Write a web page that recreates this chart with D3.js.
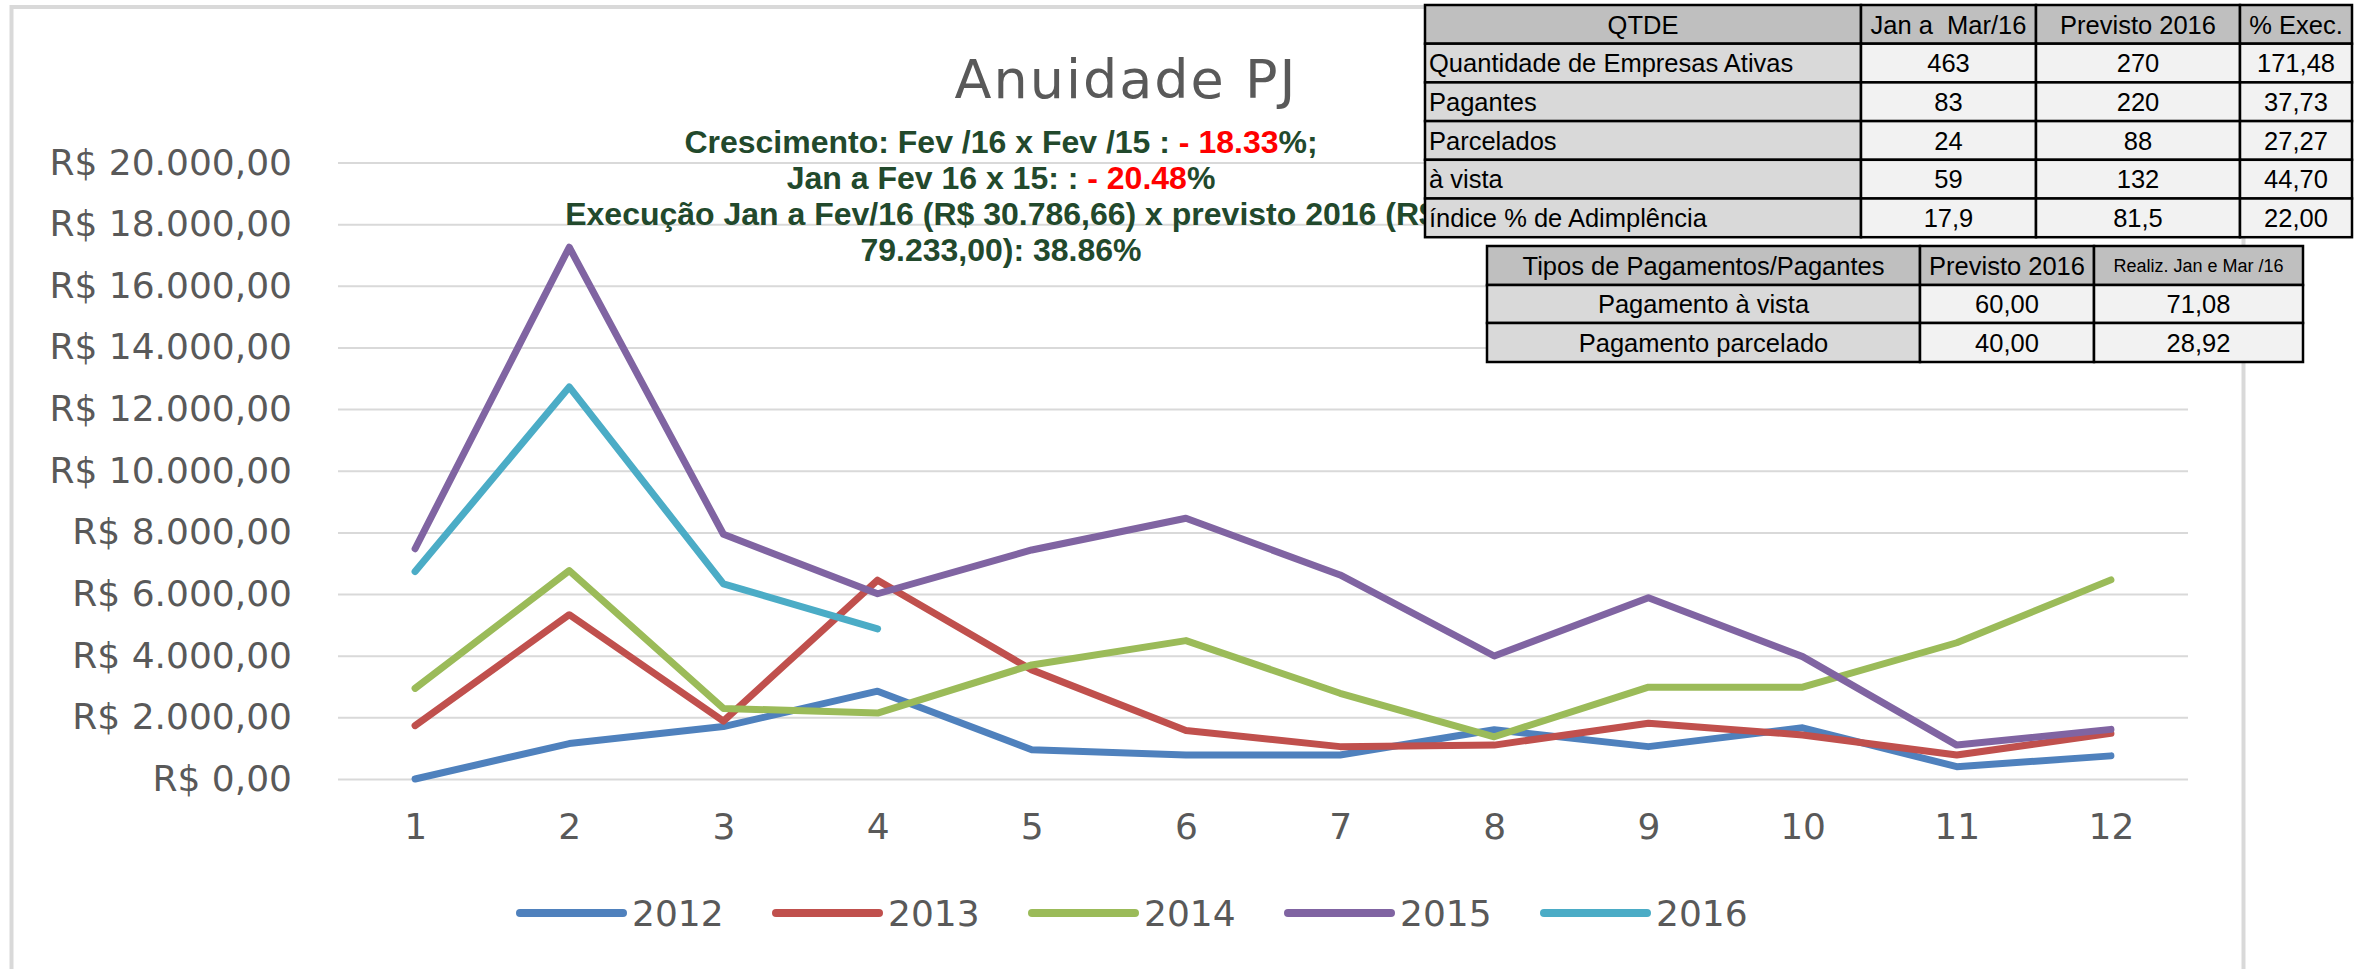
<!DOCTYPE html>
<html>
<head>
<meta charset="utf-8">
<script src="https://cdn.jsdelivr.net/npm/d3@7"></script>
<style>
  body { margin: 0; background: #ffffff; }
  svg text { white-space: pre; }
</style>
</head>
<body>
<div id="chart"></div>
<script>

// Data
let months = [1, 2, 3, 4, 5, 6, 7, 8, 9, 10, 11, 12];
let years = ["2012", "2013", "2014", "2015", "2016"];
let values2012 = [0, 1150, 1700, 2850, 950, 780, 780, 1600, 1050, 1660, 400, 750];
let values2013 = [1730, 5330, 1880, 6450, 3540, 1570, 1050, 1100, 1810, 1430, 780, 1480];
let values2014 = [2940, 6760, 2290, 2140, 3700, 4490, 2780, 1370, 2980, 2980, 4420, 6460];
let values2015 = [7470, 17250, 7940, 6010, 7430, 8460, 6620, 3990, 5880, 3970, 1100, 1610];
let values2016 = [6730, 12720, 6330, 4870];
let yTicks = [0, 2000, 4000, 6000, 8000, 10000, 12000, 14000, 16000, 18000, 20000];

let chartTitle = "Anuidade PJ";

// Table "QTDE"
let qtdeHeader = ["QTDE", "Jan a  Mar/16", "Previsto 2016", "% Exec."];
let qtdeLabels = ["Quantidade de Empresas Ativas", "Pagantes", "Parcelados", "à vista", "índice % de Adimplência"];
let qtdeJanMar = ["463", "83", "24", "59", "17,9"];
let qtdePrevisto = ["270", "220", "88", "132", "81,5"];
let qtdeExec = ["171,48", "37,73", "27,27", "44,70", "22,00"];

// Table "Tipos de Pagamentos"
let tiposHeader = ["Tipos de Pagamentos/Pagantes", "Previsto 2016", "Realiz. Jan e Mar /16"];
let tiposLabels = ["Pagamento à vista", "Pagamento parcelado"];
let tiposPrevisto = ["60,00", "40,00"];
let tiposRealiz = ["71,08", "28,92"];

function drawChart(width, height, selector) {

  console.log("Drawing Anuidade PJ");

  let series = [values2012, values2013, values2014, values2015, values2016];
  let colors = ["#4F81BD", "#C0504D", "#9BBB59", "#8064A2", "#4BACC6"];

  let svg = d3.select(selector)
    .append("svg")
    .attr("width", width)
    .attr("height", height);

  // chart frame
  svg.append("rect")
    .attr("x", 11.5)
    .attr("y", 7)
    .attr("width", 2232)
    .attr("height", 1000)
    .attr("fill", "#ffffff")
    .attr("stroke", "#D9D9D9")
    .attr("stroke-width", 4);

  ///////////////////////
  //// Scales & axes ////
  ///////////////////////

  let plotLeft = 338, plotRight = 2188, plotTop = 162.5, plotBottom = 779;

  let xPositionScale = d3.scalePoint()
    .domain(months)
    .range([plotLeft, plotRight])
    .padding(0.5);

  let yPositionScale = d3.scaleLinear()
    .domain([0, 20000])
    .range([plotBottom, plotTop]);

  let brl = d3.formatLocale({
    decimal: ",",
    thousands: ".",
    grouping: [3],
    currency: ["R$ ", ""]
  });

  let yAxis = d3.axisLeft(yPositionScale)
    .tickValues(yTicks)
    .tickSize(-(plotRight - plotLeft))
    .tickPadding(46)
    .tickFormat(brl.format("$,.2f"));

  let yAxisG = svg.append("g")
    .attr("class", "axis y-axis")
    .attr("transform", "translate(" + plotLeft + ",0)")
    .call(yAxis);

  yAxisG.select(".domain").remove();
  yAxisG.selectAll(".tick line")
    .attr("stroke", "#D9D9D9")
    .attr("stroke-width", 2);
  yAxisG.selectAll(".tick text")
    .attr("fill", "#595959")
    .attr("font-family", "DejaVu Sans")
    .attr("font-size", 36);

  let xAxis = d3.axisBottom(xPositionScale)
    .tickSize(0)
    .tickPadding(34);

  let xAxisG = svg.append("g")
    .attr("class", "axis x-axis")
    .attr("transform", "translate(0," + plotBottom + ")")
    .call(xAxis);

  xAxisG.select(".domain").remove();
  xAxisG.selectAll(".tick text")
    .attr("fill", "#595959")
    .attr("font-family", "DejaVu Sans")
    .attr("font-size", 36);

  ///////////////
  //// Lines ////
  ///////////////

  let line = d3.line()
    .x((d, i) => xPositionScale(months[i]))
    .y(d => yPositionScale(d));

  series.forEach(function(data, i) {
    svg.append("path")
      .attr("class", "line")
      .attr("id", "line-" + years[i])
      .attr("d", line(data))
      .attr("fill", "none")
      .attr("stroke", colors[i])
      .attr("stroke-width", 7)
      .attr("stroke-linejoin", "round")
      .attr("stroke-linecap", "round");
  });

  ////////////////
  //// Legend ////
  ////////////////

  let legend = svg.append("g").attr("class", "legend");

  years.forEach(function(year, i) {
    let lx = 520 + i * 256;
    legend.append("line")
      .attr("x1", lx)
      .attr("x2", lx + 103)
      .attr("y1", 913)
      .attr("y2", 913)
      .attr("stroke", colors[i])
      .attr("stroke-width", 8)
      .attr("stroke-linecap", "round");
    legend.append("text")
      .attr("x", lx + 112)
      .attr("y", 913)
      .attr("dy", "0.36em")
      .attr("fill", "#595959")
      .attr("font-family", "DejaVu Sans")
      .attr("font-size", 36)
      .text(year);
  });

  ///////////////////////////
  //// Title & notes ////////
  ///////////////////////////

  svg.append("text")
    .attr("x", 1126)
    .attr("y", 98)
    .attr("text-anchor", "middle")
    .attr("fill", "#595959")
    .attr("font-family", "DejaVu Sans")
    .attr("font-size", 54)
    .attr("letter-spacing", 2)
    .text(chartTitle);

  let green = "#22492C";
  let notes = [
    [["Crescimento: Fev /16 x Fev /15 : ", green], ["- 18.33", "#FF0000"], ["%;", green]],
    [["Jan a Fev 16 x 15: : ", green], ["- 20.48", "#FF0000"], ["%", green]],
    [["Execução Jan a Fev/16 (R$ 30.786,66) x previsto 2016 (R$", green]],
    [["79.233,00): 38.86%", green]]
  ];

  notes.forEach(function(parts, i) {
    let t = svg.append("text")
      .attr("x", 1001)
      .attr("y", 153 + i * 36)
      .attr("text-anchor", "middle")
      .attr("font-family", "Liberation Sans, Arial, sans-serif")
      .attr("font-weight", "bold")
      .attr("font-size", 32);
    parts.forEach(function(p) {
      t.append("tspan").attr("fill", p[1]).text(p[0]);
    });
  });

  ////////////////
  //// Tables ////
  ////////////////

  function drawTable(cols, rowTops, cells, fills, aligns, sizes) {
    let g = svg.append("g").attr("class", "table");
    cells.forEach(function(row, r) {
      row.forEach(function(txt, c) {
        let x0 = cols[c], x1 = cols[c + 1];
        let y0 = rowTops[r], y1 = rowTops[r + 1];
        g.append("rect")
          .attr("x", x0)
          .attr("y", y0)
          .attr("width", x1 - x0)
          .attr("height", y1 - y0)
          .attr("fill", fills[r][c])
          .attr("stroke", "#000000")
          .attr("stroke-width", 2.5);
        let left = aligns[r][c] == "start";
        g.append("text")
          .attr("x", left ? x0 + 4 : (x0 + x1) / 2)
          .attr("y", (y0 + y1) / 2)
          .attr("dy", "0.36em")
          .attr("text-anchor", left ? "start" : "middle")
          .attr("font-family", "Liberation Sans, Arial, sans-serif")
          .attr("font-size", sizes[r][c])
          .attr("fill", "#000000")
          .text(txt);
      });
    });
  }

  let headFill = "#BFBFBF", labelFill = "#D9D9D9", cellFill = "#F2F2F2";

  // QTDE table
  let qCells = [qtdeHeader];
  qtdeLabels.forEach((l, i) => qCells.push([l, qtdeJanMar[i], qtdePrevisto[i], qtdeExec[i]]));
  let qRows = d3.range(7).map(i => 5 + i * 38.7);
  drawTable(
    [1425, 1861, 2036, 2240, 2352],
    qRows,
    qCells,
    qCells.map((row, r) => row.map((d, c) => r == 0 ? headFill : (c == 0 ? labelFill : cellFill))),
    qCells.map((row, r) => row.map((d, c) => (r > 0 && c == 0) ? "start" : "middle")),
    qCells.map(row => row.map(d => 25.5))
  );

  // Tipos de pagamento table
  let tCells = [tiposHeader];
  tiposLabels.forEach((l, i) => tCells.push([l, tiposPrevisto[i], tiposRealiz[i]]));
  drawTable(
    [1487, 1920, 2094, 2303],
    [246, 285, 323, 362],
    tCells,
    tCells.map((row, r) => row.map((d, c) => r == 0 ? headFill : (c == 0 ? labelFill : cellFill))),
    tCells.map(row => row.map(d => "middle")),
    tCells.map((row, r) => row.map((d, c) => (r == 0 && c == 2) ? 18 : 25.5))
  );
}

drawChart(2359, 969, "#chart");
</script>
</body>
</html>
